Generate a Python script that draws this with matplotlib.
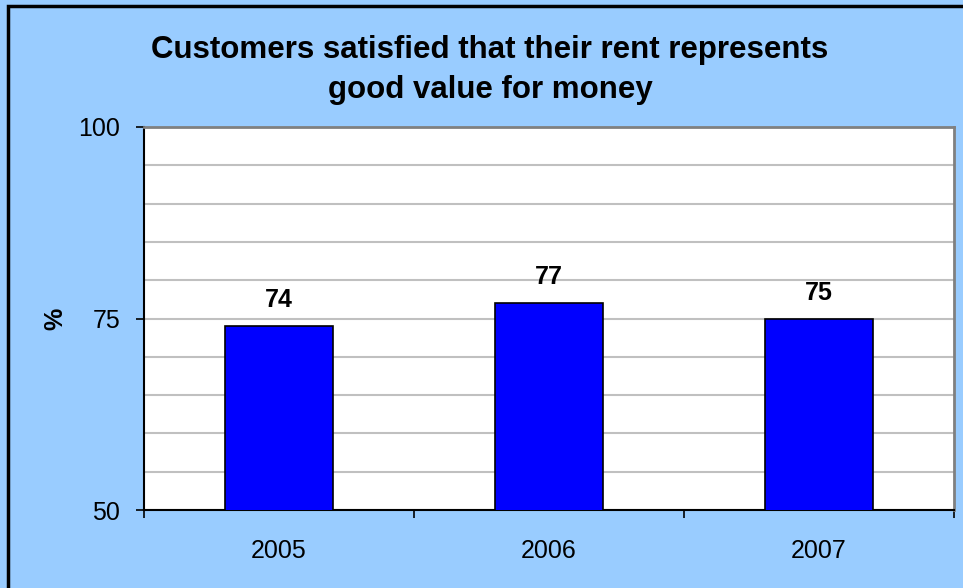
import matplotlib
matplotlib.use("Agg")
import matplotlib.pyplot as plt
from matplotlib.patches import Rectangle
from matplotlib.ticker import MultipleLocator, FixedLocator

years = ["2005", "2006", "2007"]
satisfied = [74, 77, 75]
title = "Customers satisfied that their rent represents\ngood value for money"

plt.rcParams['font.family'] = ['Liberation Sans', 'DejaVu Sans']

bg = "#99CCFF"
fig = plt.figure(figsize=(9.63, 5.88), dpi=100, facecolor=bg)
ax = fig.add_axes([144 / 963, 78 / 588, 810 / 963, 383 / 588])
ax.set_facecolor("white")

x = list(range(len(years)))
ax.bar(x, satisfied, width=0.4, color="#0000FF", edgecolor="black", linewidth=1.2, zorder=3)
for xi, v in zip(x, satisfied):
    ax.annotate(str(v), (xi, v), xytext=(0, 10), textcoords="offset points",
                ha="center", va="bottom", fontsize=18, fontweight="bold", zorder=4)

ax.set_xlim(-0.5, len(years) - 0.5)
ax.set_ylim(50, 100)

# gridlines every 5, labels only at 50 / 75 / 100
ax.yaxis.set_major_locator(MultipleLocator(25))
ax.yaxis.set_minor_locator(MultipleLocator(5))
ax.grid(axis="y", which="both", color="#C0C0C0", linewidth=1.5, zorder=0)
ax.tick_params(axis="y", which="minor", length=0)
ax.tick_params(axis="y", which="major", length=6, width=1.2, labelsize=18, pad=11)

# x ticks sit on category boundaries, labels centred on the bars
ax.xaxis.set_major_locator(FixedLocator([-0.5, 0.5, 1.5, 2.5]))
ax.xaxis.set_major_formatter(plt.NullFormatter())
ax.xaxis.set_minor_locator(FixedLocator(x))
ax.set_xticks(x, years, minor=True)
ax.tick_params(axis="x", which="major", length=6, width=1.2)
ax.tick_params(axis="x", which="minor", length=0, labelsize=18, pad=21)

for side in ("left", "bottom"):
    ax.spines[side].set_color("black")
    ax.spines[side].set_linewidth(1.5)
for side in ("top", "right"):
    ax.spines[side].set_color("#808080")
    ax.spines[side].set_linewidth(2)

ax.set_ylabel("%", fontsize=18, fontweight="bold")
ax.yaxis.set_label_coords(-0.095, 0.5)
fig.text(490 / 963, 1 - 70 / 588, title, ha="center", va="center",
         fontsize=22.5, fontweight="bold", linespacing=1.45)

# chart border (only top and left edges fall inside the canvas)
fig.patches.append(Rectangle((8 / 963, -0.5), 2, 1.5 - 6 / 588, transform=fig.transFigure,
                             fill=False, edgecolor="black", linewidth=2.5))

fig.savefig("out.png", dpi=100, facecolor=bg)
